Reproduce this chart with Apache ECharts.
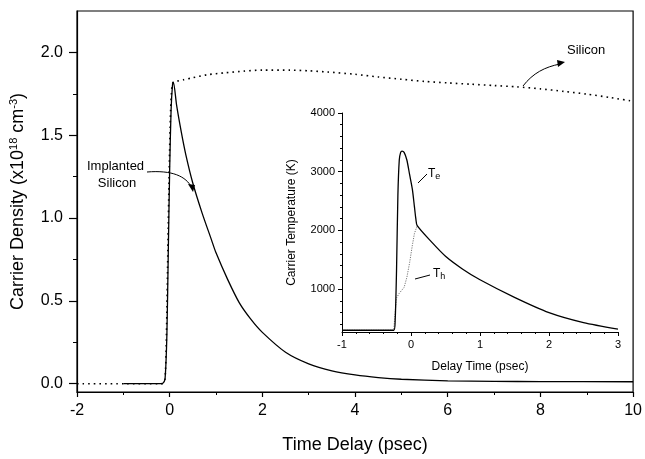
<!DOCTYPE html>
<html><head><meta charset="utf-8">
<script src="https://cdn.jsdelivr.net/npm/echarts@6/dist/echarts.min.js"></script>
<style>html,body{margin:0;padding:0;background:#fff}#c{width:645px;height:459px}</style>
</head><body><div id="c"></div>
<script>
// ---- Main plot data: carrier density (x10^18 cm^-3) vs time delay (psec)
const implantedT = [-1.0,-0.5,-0.2,-0.15,-0.1,-0.06,-0.03,0.0,0.03,0.06,0.08,0.15,0.25,0.35,0.5,0.7,0.9,1.0,1.25,1.5,1.75,2.0,2.5,3.0,3.5,4.0,4.5,5.0,6.0,7.0,8.0,10.0];
const implantedN = [0.0,0.0,0.0,0.002,0.03,0.3,0.8,1.3,1.65,1.8,1.82,1.68,1.52,1.38,1.21,1.03,0.87,0.79,0.63,0.49,0.39,0.31,0.19,0.12,0.078,0.053,0.037,0.027,0.017,0.014,0.013,0.012];
const siliconT = [-2.0,-1.0,-0.2,-0.15,-0.1,-0.07,-0.04,-0.01,0.02,0.05,0.08,0.3,0.5,0.8,1.2,1.6,2.0,2.6,3.0,3.4,4.0,4.5,5.0,5.5,6.0,6.5,7.0,7.5,8.0,8.5,9.0,9.5,10.0];
const siliconN = [0.0,0.0,0.0,0.002,0.03,0.3,0.8,1.3,1.65,1.8,1.82,1.835,1.847,1.865,1.877,1.887,1.893,1.893,1.889,1.882,1.868,1.852,1.838,1.825,1.816,1.808,1.80,1.792,1.78,1.765,1.748,1.728,1.705];
// ---- Inset data: carrier temperature (K) vs delay time (psec)
const teT = [-1.0,-0.5,-0.25,-0.23,-0.21,-0.19,-0.17,-0.15,-0.13,-0.1,-0.06,-0.02,0.02,0.05,0.07,0.09,0.3,0.5,0.75,1.0,1.5,2.0,2.5,3.0];
const teK = [300,300,300,450,1300,2600,3200,3330,3350,3330,3200,2950,2700,2400,2200,2080,1800,1560,1340,1160,860,600,430,320];
const thT = [-1.0,-0.5,-0.25,-0.23,-0.21,-0.17,-0.1,-0.06,-0.02,0.02,0.05,0.09];
const thK = [300,300,300,600,850,930,1030,1200,1450,1750,1950,2080];
// ---- Tick labels
const mainYTicks = [0,0.5,1.0,1.5,2.0];
const mainYMinor = [0.25,0.75,1.25,1.75];
const insetYTicks = [1000,2000,3000,4000];
const insetYMinor = [400,600,800,1200,1400,1600,1800,2200,2400,2600,2800,3200,3400,3600,3800];

const zip = (a,b)=>a.map((v,i)=>[v,b[i]]);
const F = 'Liberation Sans, Arial, sans-serif';
const K = '#000';
const chart = echarts.init(document.getElementById('c'), null, {renderer:'canvas'});

const insetLeft=342, insetRight=618, insetTop=113, insetBottom=332;

chart.setOption({
  animation:false,
  backgroundColor:'#fff',
  grid:[
    {left:77,right:8,top:11,bottom:55,show:true,borderColor:K,borderWidth:1.2,backgroundColor:'transparent'},
    {left:insetLeft,right:645-insetRight,top:insetTop,bottom:459-insetBottom,show:false}
  ],
  xAxis:[
    {gridIndex:0,type:'value',min:-2,max:10,interval:2,
     name:'Time Delay (psec)',nameLocation:'middle',nameGap:44,
     nameTextStyle:{fontFamily:F,fontSize:18,color:K},
     axisLine:{show:true,onZero:false,lineStyle:{color:K,width:1.2}},
     axisTick:{show:true,inside:false,length:5,lineStyle:{color:K,width:1.2}},
     minorTick:{show:true,splitNumber:2,length:3,lineStyle:{color:K,width:1}},
     axisLabel:{fontFamily:F,fontSize:16,color:K,margin:11},
     splitLine:{show:false},minorSplitLine:{show:false}},
    {gridIndex:1,type:'value',min:-1,max:3,interval:1,
     name:'Delay Time (psec)',nameLocation:'middle',nameGap:29,
     nameTextStyle:{fontFamily:F,fontSize:12,color:K},
     axisLine:{show:true,onZero:false,lineStyle:{color:K,width:1}},
     axisTick:{show:true,length:4,lineStyle:{color:K,width:1}},
     minorTick:{show:true,splitNumber:5,length:2,lineStyle:{color:K,width:1}},
     axisLabel:{fontFamily:F,fontSize:11,color:K,margin:7},
     splitLine:{show:false},minorSplitLine:{show:false}}
  ],
  yAxis:[
    {gridIndex:0,type:'value',position:'left',min:-0.05,max:2.25,
     name:'Carrier Density (x10{s|18} cm{s|-3})',nameLocation:'middle',nameGap:48,nameRotate:90,
     nameTextStyle:{fontFamily:F,fontSize:18,color:K,rich:{s:{fontFamily:F,fontSize:11,color:K,verticalAlign:'top',padding:[0,0,10,0]}}},
     axisLine:{show:true,onZero:false,lineStyle:{color:K,width:1.2}},
     axisTick:{show:true,length:8,customValues:mainYTicks,lineStyle:{color:K,width:1.2}},
     axisLabel:{fontFamily:F,fontSize:16,color:K,margin:14,customValues:mainYTicks,formatter:v=>Number(v).toFixed(1)},
     splitLine:{show:false}},
    {gridIndex:0,type:'value',position:'left',min:-0.05,max:2.25,
     axisLine:{show:false,onZero:false},
     axisTick:{show:true,length:4,customValues:mainYMinor,lineStyle:{color:K,width:1}},
     axisLabel:{show:false},splitLine:{show:false}},
    {gridIndex:1,type:'value',position:'left',min:270,max:4000,
     name:'Carrier Temperature (K)',nameLocation:'middle',nameGap:44,nameRotate:90,
     nameTextStyle:{fontFamily:F,fontSize:12,color:K},
     axisLine:{show:true,onZero:false,lineStyle:{color:K,width:1}},
     axisTick:{show:true,length:4,customValues:insetYTicks,lineStyle:{color:K,width:1}},
     axisLabel:{fontFamily:F,fontSize:11,color:K,margin:7,customValues:insetYTicks,formatter:v=>String(v)},
     splitLine:{show:false}},
    {gridIndex:1,type:'value',position:'left',min:270,max:4000,
     axisLine:{show:false,onZero:false},
     axisTick:{show:true,length:2,customValues:insetYMinor,lineStyle:{color:K,width:1}},
     axisLabel:{show:false},splitLine:{show:false}}
  ],
  series:[
    {name:'Implanted Silicon',type:'line',xAxisIndex:0,yAxisIndex:0,data:zip(implantedT,implantedN),
     showSymbol:false,smooth:0.25,lineStyle:{color:K,width:1.3},z:3},
    {name:'Silicon',type:'line',xAxisIndex:0,yAxisIndex:0,data:zip(siliconT,siliconN),
     showSymbol:false,smooth:0.25,lineStyle:{color:K,width:1.6,type:[1.6,4]},z:2},
    {name:'Th',type:'line',xAxisIndex:1,yAxisIndex:2,data:zip(thT,thK),
     showSymbol:false,lineStyle:{color:'#777',width:1,type:[1.2,1.2]},z:2},
    {name:'Te',type:'line',xAxisIndex:1,yAxisIndex:2,data:zip(teT,teK),
     showSymbol:false,smooth:0.25,lineStyle:{color:K,width:1.3},z:3}
  ],
  graphic:[
    {type:'text',left:87,top:158,style:{text:'Implanted\n   Silicon',fontFamily:F,fontSize:13,fill:K,lineHeight:17}},
    {type:'bezierCurve',shape:{x1:147,y1:172,cpx1:172,cpy1:170,cpx2:186,cpy2:176,x2:192,y2:188},style:{stroke:K,lineWidth:1,fill:null}},
    {type:'polygon',shape:{points:[[193,192],[188,184],[195,185]]},style:{fill:K}},
    {type:'text',left:567,top:44,style:{text:'Silicon',fontFamily:F,fontSize:13,fill:K}},
    {type:'bezierCurve',shape:{x1:523,y1:86,cpx1:533,cpy1:73,cpx2:545,cpy2:67,x2:560,y2:64},style:{stroke:K,lineWidth:1,fill:null}},
    {type:'polygon',shape:{points:[[565,62],[557,60],[558,67]]},style:{fill:K}},
    {type:'text',left:428,top:168,style:{text:'T{e|e}',fontFamily:F,fontSize:12,fill:K,rich:{e:{fontFamily:F,fontSize:9,fill:K,padding:[6,0,0,0]}}}},
    {type:'line',shape:{x1:418,y1:183,x2:427,y2:174},style:{stroke:K,lineWidth:1}},
    {type:'text',left:433,top:268,style:{text:'T{h|h}',fontFamily:F,fontSize:12,fill:K,rich:{h:{fontFamily:F,fontSize:9,fill:K,padding:[6,0,0,0]}}}},
    {type:'line',shape:{x1:415,y1:279,x2:430,y2:275},style:{stroke:K,lineWidth:1}}
  ]
});
</script></body></html>
